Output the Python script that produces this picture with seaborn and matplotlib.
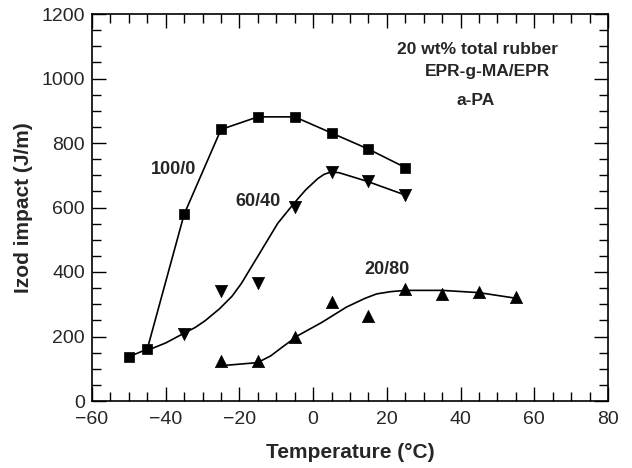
import matplotlib
matplotlib.use("Agg")
import matplotlib.pyplot as plt
import seaborn as sns
import pandas as pd
from matplotlib.ticker import MultipleLocator

sns.set_theme(style="ticks")
plt.rcParams['font.family'] = ['Liberation Sans', 'DejaVu Sans']

# 100/0 (squares, straight connecting line)
t_100 = [-50, -45, -35, -25, -15, -5, 5, 15, 25]
v_100 = [137, 161, 579, 842, 881, 881, 831, 781, 724]

# 60/40 (down triangles) data points
t_60 = [-35, -25, -15, -5, 5, 15, 25]
v_60 = [208, 340, 366, 603, 710, 681, 639]
# 60/40 fitted curve
tc_60 = [-45.2, -40.0, -35.4, -32.0, -29.3, -25.4, -22.0, -19.5, -15.1, -9.6,
         -5.2, -2.0, 1.3, 3.0, 4.8, 7.0, 9.0, 14.7, 24.9]
vc_60 = [156, 180, 208, 228, 249, 286, 325, 364, 447, 551,
         613, 655, 690, 703, 710, 708, 701, 681, 639]

# 20/80 (up triangles) data points
t_20 = [-25, -15, -5, 5, 15, 25, 35, 45, 55]
v_20 = [123, 125, 199, 306, 263, 347, 332, 338, 322]
# 20/80 fitted curve
tc_20 = [-25.4, -15.1, -11.5, -8.5, -4.1, 2.4, 9.0, 14.0, 17.2, 21.0, 24.9, 35.0, 45.0, 54.8]
vc_20 = [109, 119, 140, 166, 203, 244, 291, 318, 332, 339, 343, 343, 336, 319]

fig = plt.figure(figsize=(6.32, 4.68), dpi=100)
ax = fig.add_axes([92 / 632, 67 / 468, 516 / 632, 387 / 468])

df100 = pd.DataFrame({"t": t_100, "v": v_100})
sns.lineplot(data=df100, x="t", y="v", ax=ax, color="black", lw=1.2, sort=False)
sns.scatterplot(data=df100, x="t", y="v", ax=ax, marker="s", s=62, color="black",
                edgecolor="black", linewidth=0.5, zorder=3)

sns.lineplot(x=tc_60, y=vc_60, ax=ax, color="black", lw=1.2, sort=False)
sns.scatterplot(x=t_60, y=v_60, ax=ax, marker="v", s=78, color="black",
                edgecolor="black", linewidth=0.5, zorder=3)

sns.lineplot(x=tc_20, y=vc_20, ax=ax, color="black", lw=1.2, sort=False)
sns.scatterplot(x=t_20, y=v_20, ax=ax, marker="^", s=78, color="black",
                edgecolor="black", linewidth=0.5, zorder=3)

ax.set_xlim(-60, 80)
ax.set_ylim(0, 1200)
ax.xaxis.set_major_locator(MultipleLocator(20))
ax.xaxis.set_minor_locator(MultipleLocator(5))
ax.yaxis.set_major_locator(MultipleLocator(200))
ax.yaxis.set_minor_locator(MultipleLocator(50))
ax.tick_params(which="both", direction="in", top=True, right=True, color="black", width=1.0)
ax.tick_params(which="major", length=10, labelsize=14)
ax.tick_params(which="minor", length=6.5)
ax.tick_params(axis="x", which="major", pad=7)
ax.tick_params(axis="y", which="major", pad=5)
ax.set_xticks([-60, -40, -20, 0, 20, 40, 60, 80])
ax.set_xticklabels([f"{t}".replace("-", "\u2212") for t in [-60, -40, -20, 0, 20, 40, 60, 80]])
for sp in ax.spines.values():
    sp.set_linewidth(1.2)
    sp.set_color("black")

ax.set_xlabel("Temperature (\u00b0C)", fontsize=15, fontweight="bold", labelpad=11)
ax.set_ylabel("Izod impact (J/m)", fontsize=15, fontweight="bold", labelpad=6)

ax.text(-38, 719, "100/0", fontsize=13, fontweight="bold", ha="center", va="center")
ax.text(-14.9, 618, "60/40", fontsize=13, fontweight="bold", ha="center", va="center")
ax.text(20, 409, "20/80", fontsize=13, fontweight="bold", ha="center", va="center")
ax.text(44.7, 1091, "20 wt% total rubber", fontsize=12.5, fontweight="bold", ha="center", va="center")
ax.text(47.4, 1021, "EPR-g-MA/EPR", fontsize=12.5, fontweight="bold", ha="center", va="center")
ax.text(44.2, 931, "a-PA", fontsize=12.5, fontweight="bold", ha="center", va="center")

fig.savefig("out.png", dpi=100)
